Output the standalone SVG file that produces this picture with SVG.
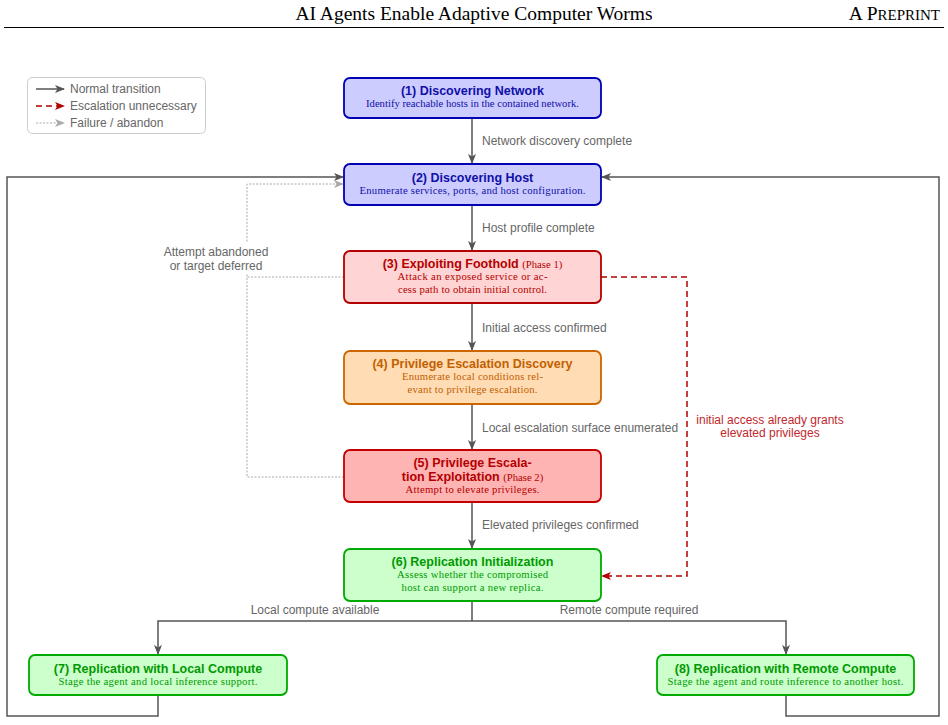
<svg xmlns="http://www.w3.org/2000/svg" width="948" height="725" viewBox="0 0 948 725">
<style>
.hdr{font-family:"Liberation Serif",serif;font-size:19.5px;fill:#000}
.t{font-family:"Liberation Sans",Arial,sans-serif;font-weight:bold;font-size:12.5px;text-anchor:middle}
.s{font-family:"Liberation Serif",serif;font-size:10.7px;text-anchor:middle}
.ph{font-family:"Liberation Serif",serif;font-weight:normal;font-size:10.7px}
.lbl{font-family:"Liberation Sans",Arial,sans-serif;font-size:12px;fill:#666}
.blue rect{fill:#ccccff;stroke:#0000b3}
.blue text{fill:#1010a8}
.red rect{fill:#ffd4d4;stroke:#b30000}
.red text{fill:#b30000}
.org rect{fill:#ffdcb4;stroke:#cc6600}
.org text{fill:#c26000}
.red2 rect{fill:#ffb4b4;stroke:#c40000}
.red2 text{fill:#b30000}
.grn rect{fill:#ccffcc;stroke:#00aa00}
.grn text{fill:#009900}
rect.n{stroke-width:1.8}
.c{fill:none;stroke:#555;stroke-width:1.5}
.d{fill:none;stroke:#b30000;stroke-width:1.5;stroke-dasharray:6,4}
.f{fill:none;stroke:#aaa;stroke-width:1;stroke-dasharray:2,1.5}
</style>
<defs>
<marker id="ag" viewBox="0 0 10 8" refX="9" refY="4" markerWidth="10" markerHeight="8" markerUnits="userSpaceOnUse" orient="auto"><path d="M0,0 L10,4 L0,8 L2.5,4 Z" fill="#555"/></marker>
<marker id="ar" viewBox="0 0 10 8" refX="9" refY="4" markerWidth="10" markerHeight="8" markerUnits="userSpaceOnUse" orient="auto"><path d="M0,0 L10,4 L0,8 L2.5,4 Z" fill="#b30000"/></marker>
<marker id="al" viewBox="0 0 10 8" refX="9" refY="4" markerWidth="10" markerHeight="8" markerUnits="userSpaceOnUse" orient="auto"><path d="M0,0 L10,4 L0,8 L2.5,4 Z" fill="#aaa"/></marker>
</defs>
<rect width="948" height="725" fill="#fff"/>
<!-- header -->
<text class="hdr" x="474" y="20" text-anchor="middle">AI Agents Enable Adaptive Computer Worms</text>
<text class="hdr" x="940" y="20" text-anchor="end">A P<tspan font-size="15px">REPRINT</tspan></text>
<line x1="4" y1="27.5" x2="944" y2="27.5" stroke="#000" stroke-width="1"/>
<!-- legend -->
<g id="legend">
<rect x="27.5" y="77.5" width="178" height="56" rx="5" fill="#fff" stroke="#ccc"/>
<line x1="36" y1="89" x2="64" y2="89" class="c" marker-end="url(#ag)"/>
<text class="lbl" x="70" y="93">Normal transition</text>
<line x1="36" y1="106" x2="64" y2="106" class="d" stroke-dasharray="5,3" marker-end="url(#ar)"/>
<text class="lbl" x="70" y="110">Escalation unnecessary</text>
<line x1="36" y1="123" x2="64" y2="123" class="f" marker-end="url(#al)"/>
<text class="lbl" x="70" y="127">Failure / abandon</text>
</g>
<!-- connectors -->
<g id="connectors">
<line x1="472" y1="118" x2="472" y2="163" class="c" marker-end="url(#ag)"/>
<line x1="472" y1="205" x2="472" y2="250" class="c" marker-end="url(#ag)"/>
<line x1="472" y1="303" x2="472" y2="350" class="c" marker-end="url(#ag)"/>
<line x1="472" y1="404" x2="472" y2="449" class="c" marker-end="url(#ag)"/>
<line x1="472" y1="502" x2="472" y2="548" class="c" marker-end="url(#ag)"/>
<polyline points="472,601 472,621" class="c"/>
<polyline points="472,621 158,621 158,654" class="c" marker-end="url(#ag)"/>
<polyline points="472,621 786,621 786,654" class="c" marker-end="url(#ag)"/>
<polyline points="158,695 158,716 7,716 7,177 343,177" class="c" marker-end="url(#ag)"/>
<polyline points="786,695 786,716 939,716 939,177 602,177" class="c" marker-end="url(#ag)"/>
<polyline points="344,477 247,477 247,184 343,184" class="f" marker-end="url(#al)"/>
<polyline points="344,277 247,277" class="f"/>
<polyline points="601,277 687,277 687,576 602,576" class="d" marker-end="url(#ar)"/>
<text class="lbl" x="482" y="145">Network discovery complete</text>
<text class="lbl" x="482" y="232">Host profile complete</text>
<text class="lbl" x="482" y="332">Initial access confirmed</text>
<text class="lbl" x="482" y="432">Local escalation surface enumerated</text>
<text class="lbl" x="482" y="529">Elevated privileges confirmed</text>
<text class="lbl" x="315" y="614" text-anchor="middle">Local compute available</text>
<text class="lbl" x="629" y="614" text-anchor="middle">Remote compute required</text>
<rect x="160" y="243" width="114" height="30" fill="#fff"/>
<text class="lbl" x="216" y="256" text-anchor="middle">Attempt abandoned</text>
<text class="lbl" x="216" y="270" text-anchor="middle">or target deferred</text>
<text class="lbl" x="770" y="424" text-anchor="middle" style="fill:#c0282d">initial access already grants</text>
<text class="lbl" x="770" y="437" text-anchor="middle" style="fill:#c0282d">elevated privileges</text>
</g>
<!-- nodes -->
<g id="n1" class="blue">
<rect class="n" x="344" y="78" width="257" height="40" rx="6"/>
<text class="t" x="472.5" y="95">(1) Discovering Network</text>
<text class="s" x="472.5" y="107" textLength="213" lengthAdjust="spacing">Identify reachable hosts in the contained network.</text>
</g>
<g id="n2" class="blue">
<rect class="n" x="344" y="164" width="257" height="41" rx="6"/>
<text class="t" x="472.5" y="182">(2) Discovering Host</text>
<text class="s" x="472.5" y="194" textLength="226" lengthAdjust="spacing">Enumerate services, ports, and host configuration.</text>
</g>
<g id="n3" class="red">
<rect class="n" x="344" y="251" width="257" height="52" rx="6"/>
<text class="t" x="472.5" y="268">(3) Exploiting Foothold <tspan class="ph">(Phase 1)</tspan></text>
<text class="s" x="472.5" y="280" textLength="150" lengthAdjust="spacing">Attack an exposed service or ac-</text>
<text class="s" x="472.5" y="293" textLength="149" lengthAdjust="spacing">cess path to obtain initial control.</text>
</g>
<g id="n4" class="org">
<rect class="n" x="344" y="351" width="257" height="53" rx="6"/>
<text class="t" x="472.5" y="368">(4) Privilege Escalation Discovery</text>
<text class="s" x="472.5" y="380" textLength="141" lengthAdjust="spacing">Enumerate local conditions rel-</text>
<text class="s" x="472.5" y="393" textLength="130" lengthAdjust="spacing">evant to privilege escalation.</text>
</g>
<g id="n5" class="red2">
<rect class="n" x="344" y="450" width="257" height="52" rx="6"/>
<text class="t" x="472.5" y="467">(5) Privilege Escala-</text>
<text class="t" x="472.5" y="480.5">tion Exploitation <tspan class="ph">(Phase 2)</tspan></text>
<text class="s" x="472.5" y="493" textLength="134" lengthAdjust="spacing">Attempt to elevate privileges.</text>
</g>
<g id="n6" class="grn">
<rect class="n" x="344" y="549" width="257" height="52" rx="6"/>
<text class="t" x="472.5" y="566">(6) Replication Initialization</text>
<text class="s" x="472.5" y="578" textLength="151" lengthAdjust="spacing">Assess whether the compromised</text>
<text class="s" x="472.5" y="591" textLength="142" lengthAdjust="spacing">host can support a new replica.</text>
</g>
<g id="n7" class="grn">
<rect class="n" x="29" y="655" width="258" height="40" rx="6"/>
<text class="t" x="158" y="673">(7) Replication with Local Compute</text>
<text class="s" x="158" y="685" textLength="199" lengthAdjust="spacing">Stage the agent and local inference support.</text>
</g>
<g id="n8" class="grn">
<rect class="n" x="657" y="655" width="257" height="40" rx="6"/>
<text class="t" x="785.5" y="673">(8) Replication with Remote Compute</text>
<text class="s" x="785.5" y="685" textLength="236" lengthAdjust="spacing">Stage the agent and route inference to another host.</text>
</g>
</svg>
